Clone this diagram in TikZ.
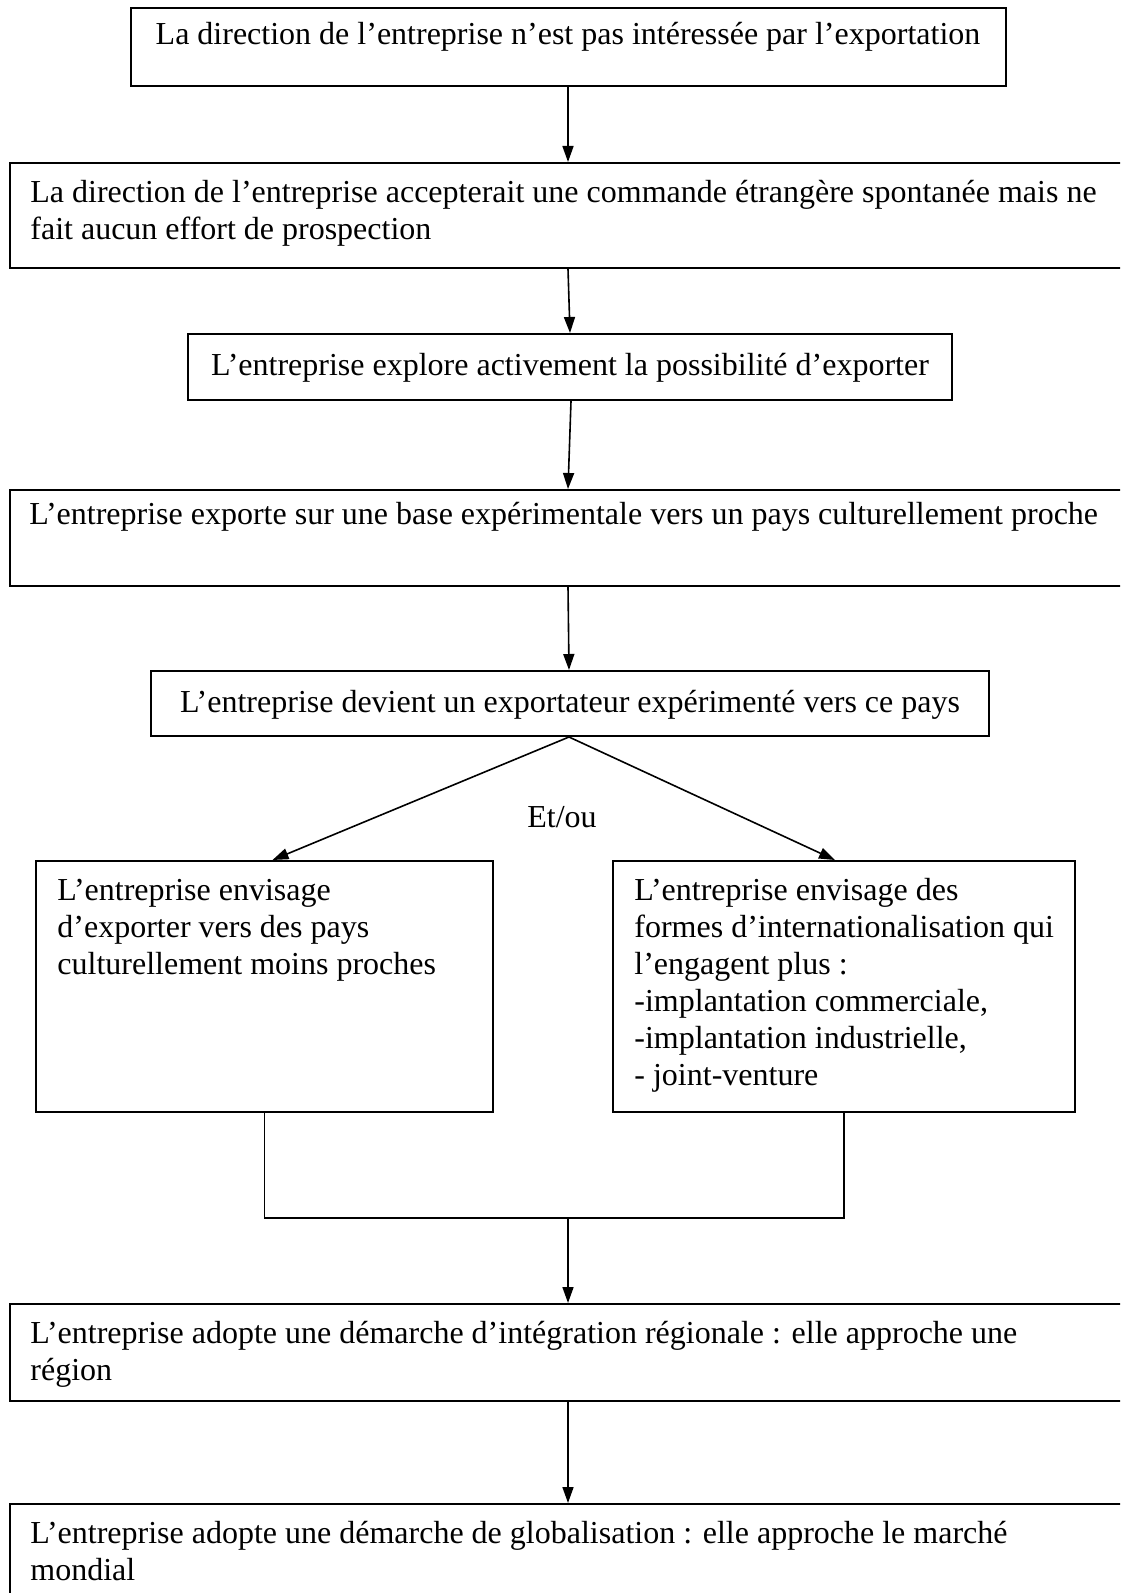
\documentclass[tikz,border=0pt]{standalone}
\usepackage{fontspec}
\setmainfont{Liberation Serif}
\usetikzlibrary{arrows.meta,calc}
\begin{document}
\begin{tikzpicture}[x=0.5pt,y=-0.5pt,
  box/.style={draw,line width=1pt,inner sep=0pt,rectangle},
  txt/.style={inner sep=0pt,align=left,font=\fontsize{16pt}{18.4pt}\selectfont},
  arr/.style={line width=0.8pt,-{Triangle[length=8pt,width=5.5pt]}},
  conn/.style={line width=0.8pt}]
\useasboundingbox (0,0) rectangle (1120,1593);
\clip (0,0) rectangle (1120,1593);
% boxes
\node[box,minimum width=437.5pt,minimum height=39pt] (b1) at (568.5,47) {};
\node[box,minimum width=560pt,minimum height=52.5pt] (b2) at (570,215.5) {};
\node[box,minimum width=382pt,minimum height=33pt] (b3) at (570,367) {};
\node[box,minimum width=560pt,minimum height=48pt] (b4) at (570,538) {};
\node[box,minimum width=419pt,minimum height=32.5pt] (b5) at (570,703.5) {};
\node[box,minimum width=228.5pt,minimum height=125.5pt] (b6) at (264.5,986.5) {};
\node[box,minimum width=231pt,minimum height=125.5pt] (b7) at (844,986.5) {};
\node[box,minimum width=560pt,minimum height=48.5pt] (b8) at (570,1352.5) {};
\node[box,minimum width=560pt,minimum height=73pt] (b9) at (570,1577) {};
% texts
\node[txt,anchor=base] (t1) at (568,45) {La direction de l’entreprise n’est pas intéressée par l’exportation};
\node[txt,anchor=base west] (t2a) at (30,203) {La direction de l’entreprise accepterait une commande étrangère spontanée mais ne};
\node[txt,anchor=base west] (t2b) at (30,240) {fait aucun effort de prospection};
\node[txt,anchor=base] (t3) at (570,376) {L’entreprise explore activement la possibilité d’exporter};
\node[txt,anchor=base west] (t4) at (29,524) {L’entreprise exporte sur une base expérimentale vers un pays culturellement proche};
\node[txt,anchor=base] (t5) at (570,712) {L’entreprise devient un exportateur expérimenté vers ce pays};
\node[txt,anchor=base] (etou) at (562,827) {Et/ou};
\node[txt,anchor=base west] (t6a) at (57,900) {L’entreprise envisage};
\node[txt,anchor=base west] (t6b) at (57,937) {d’exporter vers des pays};
\node[txt,anchor=base west] (t6c) at (57,974) {culturellement moins proches};
\node[txt,anchor=base west] (t7a) at (634,900) {L’entreprise envisage des};
\node[txt,anchor=base west] (t7b) at (634,937) {formes d’internationalisation qui};
\node[txt,anchor=base west] (t7c) at (634,974) {l’engagent plus :};
\node[txt,anchor=base west] (t7d) at (634,1011) {-implantation commerciale,};
\node[txt,anchor=base west] (t7e) at (634,1048) {-implantation industrielle,};
\node[txt,anchor=base west] (t7f) at (634,1085) {- joint-venture};
\node[txt,anchor=base west] (t8a) at (30,1343) {L’entreprise adopte une démarche d’intégration régionale : elle approche une};
\node[txt,anchor=base west] (t8b) at (30,1380) {région};
\node[txt,anchor=base west] (t9a) at (30,1543) {L’entreprise adopte une démarche de globalisation : elle approche le marché};
\node[txt,anchor=base west] (t9b) at (30,1580) {mondial};
% connectors
\draw[arr] ($(b1.south)+(-0.5,0)$) -- ($(b2.north)+(-2,0)$);
\draw[arr] ($(b2.south)+(-2,0)$) -- (b3.north);
\draw[arr] ($(b3.south)+(1,0)$) -- ($(b4.north)+(-2,0)$);
\draw[arr] ($(b4.south)+(-2,0)$) -- ($(b5.north)+(-1,0)$);
\draw[arr] ($(b5.south)+(-1,0)$) -- ($(b6.north)+(8,0)$);
\draw[arr] ($(b5.south)+(-1,0)$) -- ($(b7.north)+(-9,0)$);
\coordinate (jl) at ($(b6.south)+(0,105)$);
\draw[conn] (b6.south) -- (jl) -| (b7.south);
\draw[arr] ($(jl -| b8.north)+(-2,0)$) -- ($(b8.north)+(-2,0)$);
\draw[arr] ($(b8.south)+(-2,0)$) -- ($(b9.north)+(-2,0)$);
\end{tikzpicture}
\end{document}
